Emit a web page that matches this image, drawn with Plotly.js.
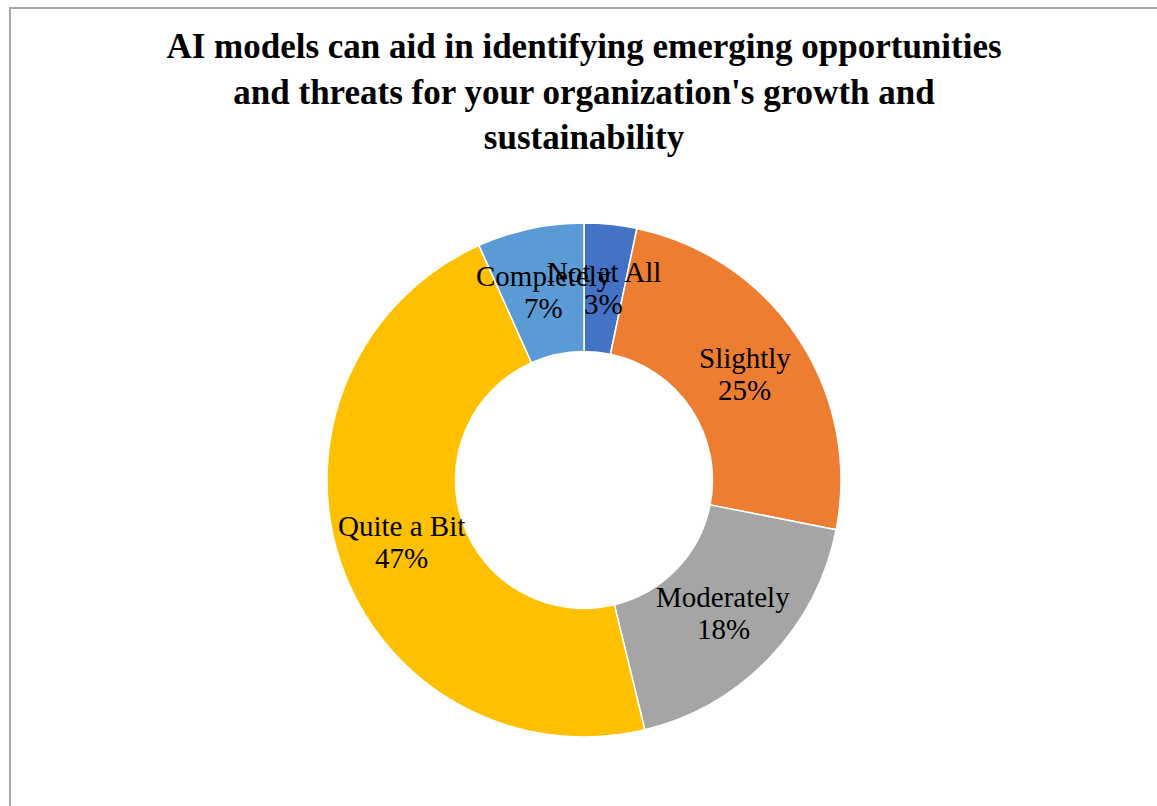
<!DOCTYPE html>
<html>
<head>
<meta charset="utf-8">
<script src="https://cdn.plot.ly/plotly-3.0.1.min.js"></script>
<style>
  html, body { margin: 0; padding: 0; background: #ffffff; }
  #wrap { position: relative; width: 1157px; height: 806px; overflow: hidden; }
  #frame { position: absolute; left: 9px; top: 7px; width: 1200px; height: 900px;
           border-left: 2px solid #a6a6a6; border-top: 2px solid #a6a6a6; }
  #chart { position: absolute; left: 0; top: 0; width: 1157px; height: 806px; }
</style>
</head>
<body>
<div id="wrap">
  <div id="frame"></div>
  <div id="chart"></div>
</div>
<script>
const categories = ["Not at All", "Slightly", "Moderately", "Quite a Bit", "Completely"];
const shares = [3.3, 24.8, 18.1, 47.1, 6.7];
const sliceColors = ["#4472C4", "#ED7D31", "#A5A5A5", "#FFC000", "#5B9BD5"];
const chartTitle = "AI models can aid in identifying emerging opportunities<br>and threats for your organization's growth and<br>sustainability";

const HOLE = 0.5;
const labelFont = { family: "Liberation Serif, Times New Roman, serif", size: 29, color: "#000000" };

const trace = {
  type: "pie",
  labels: categories,
  values: shares,
  sort: false,
  direction: "clockwise",
  rotation: 0,
  hole: HOLE,
  marker: { colors: sliceColors, line: { color: "#ffffff", width: 1.5 } },
  textinfo: "none",
  hoverinfo: "label+percent",
  showlegend: false
};

// Data labels placed at the middle of the ring, at each slice's mid-angle (derived from the values)
const total = shares.reduce((a, b) => a + b, 0);
const annotations = [];
let cum = 0;
shares.forEach((v, i) => {
  const mid = (cum + v / 2) / total * 2 * Math.PI;
  cum += v;
  const rr = 0.5 * (1 + HOLE) / 2; // ring middle in paper units (domain is square)
  const x = 0.5 + rr * Math.sin(mid);
  const y = 0.5 + rr * Math.cos(mid);
  const pct = Math.round(v / total * 100) + "%";
  annotations.push({ xref: "paper", yref: "paper", x: x, y: y, text: categories[i], showarrow: false,
    xanchor: "center", yanchor: "middle", yshift: 16, font: labelFont });
  annotations.push({ xref: "paper", yref: "paper", x: x, y: y, text: pct, showarrow: false,
    xanchor: "center", yanchor: "middle", yshift: -16, font: labelFont });
});

const layout = {
  width: 1157,
  height: 806,
  margin: { l: 327, r: 316, t: 223, b: 69, pad: 0 },
  paper_bgcolor: "rgba(0,0,0,0)",
  plot_bgcolor: "rgba(0,0,0,0)",
  showlegend: false,
  annotations: annotations,
  title: {
    text: chartTitle,
    font: { family: "Liberation Serif, Times New Roman, serif", size: 35, color: "#000000", weight: "bold" },
    xref: "paper",
    x: 0.5,
    xanchor: "center",
    yref: "container",
    y: 1 - 58 / 806,
    yanchor: "middle"
  }
};

Plotly.newPlot("chart", [trace], layout, { displayModeBar: false, staticPlot: true });
</script>
</body>
</html>
